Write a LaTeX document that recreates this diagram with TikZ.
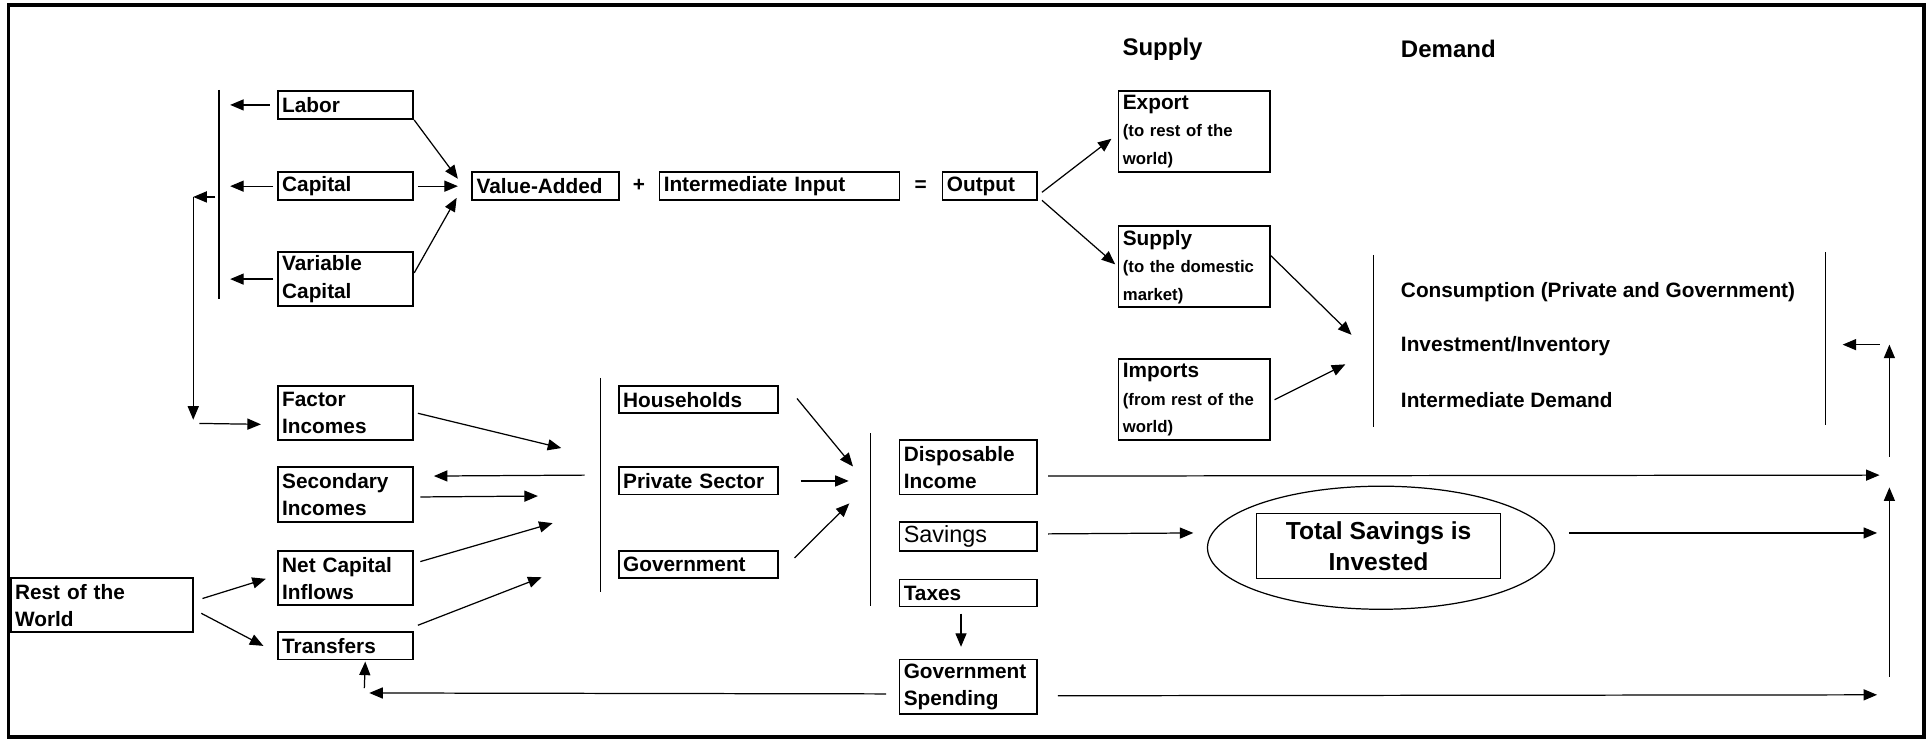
\documentclass[tikz,border=0pt]{standalone}
\usepackage{fontspec}
\setmainfont{Liberation Sans}
\usetikzlibrary{arrows.meta,shapes.geometric}
\begin{document}
\begin{tikzpicture}[x=1pt,y=-1pt,
  box/.style={draw,line width=1.5pt,inner xsep=3.5pt,inner ysep=0pt,align=left,anchor=north west,
              font=\fontsize{16.9}{22}\selectfont\bfseries},
  sbox/.style={box,font=\fontsize{13.6}{22.3}\selectfont\bfseries},
  arr/.style={line width=1pt,-{Triangle[length=11pt,width=9pt]}},
  ln/.style={line width=1pt},
  lbl/.style={inner sep=0pt,font=\fontsize{16.9}{22}\selectfont\bfseries},
  hdr/.style={inner sep=0pt,font=\fontsize{19.5}{24}\selectfont\bfseries},
  ]
\useasboundingbox (0,0) rectangle (1568,601);
\draw[line width=3pt] (7,4) rectangle (1563,599);

% headers
\node[hdr] (hsupply) at (944.5,40) {Supply};
\node[hdr,anchor=west] (hdemand) at (1138,40) {Demand};

% top row
\node[box,text width=103pt,minimum height=23pt] (labor) at (225,73) {Labor};
\node[box,text width=103pt,minimum height=23pt] (capital) at (225,139) {Capital};
\node[box,text width=103pt,minimum height=44pt] (varcap) at (225,204) {Variable\\Capital};
\node[box,text width=112pt,minimum height=23pt] (va) at (383,139) {Value-Added};
\node[lbl] (plus) at (519,151) {+};
\node[box,text width=188pt,minimum height=23pt] (ii) at (535,139) {Intermediate Input};
\node[lbl] (eq) at (748,151) {=};
\node[box,text width=70pt,minimum height=23pt] (output) at (765,139) {Output};

\node[sbox,text width=116pt,minimum height=66pt] (export) at (908,73)
  {{\fontsize{16.9}{22.3}\selectfont Export}\\(to rest of the\\world)};
\node[sbox,text width=116pt,minimum height=66pt] (supply) at (908,183)
  {{\fontsize{16.9}{22.3}\selectfont Supply}\\(to the domestic\\market)};
\node[sbox,text width=116pt,minimum height=66pt] (imports) at (908,291)
  {{\fontsize{16.9}{22.3}\selectfont Imports}\\(from rest of the\\world)};

% demand block
\coordinate (dbt) at (1116,207);
\coordinate (dbb) at (1116,347);
\draw[ln] (dbt) -- (dbb);
\coordinate (rbt) at (1483,205);
\coordinate (rbb) at (1483,345);
\draw[ln] (rbt) -- (rbb);
\node[lbl,anchor=west] (cons) at (1138,237) {Consumption (Private and Government)};
\node[lbl,anchor=west] (inv) at (1138,281) {Investment/Inventory};
\node[lbl,anchor=west] (intd) at (1138,325) {Intermediate Demand};

% left column
\node[box,text width=103pt,minimum height=44pt] (factor) at (225,313) {Factor\\Incomes};
\node[box,text width=103pt,minimum height=44pt] (second) at (225,379) {Secondary\\Incomes};
\node[box,text width=103pt,minimum height=44pt] (netcap) at (225,447) {Net Capital\\Inflows};
\node[box,text width=103pt,minimum height=22pt] (transfers) at (225,513) {Transfers};
\node[box,text width=141pt,minimum height=44pt] (row) at (8,469) {Rest of the\\World};

% institutions
\node[box,text width=122pt,minimum height=22pt] (hh) at (502,313) {Households};
\node[box,text width=122pt,minimum height=22pt] (ps) at (502,379) {Private Sector};
\node[box,text width=122pt,minimum height=22pt] (gov) at (502,447) {Government};

% income use
\node[box,text width=105pt,minimum height=44pt] (disp) at (730,357) {Disposable\\Income};
\node[box,text width=105pt,minimum height=24pt,font=\fontsize{19}{22}\selectfont] (sav) at (730,423) {Savings};
\node[box,text width=105pt,minimum height=22pt] (taxes) at (730,470) {Taxes};
\node[box,text width=105pt,minimum height=44pt] (gs) at (730,535) {Government\\Spending};

% savings invested
\node[draw,ellipse,line width=1pt,minimum width=282pt,minimum height=100pt] (ell) at (1122,445) {};
\node[draw,line width=1pt,minimum width=198pt,minimum height=53pt,inner sep=0pt,align=center,
      font=\fontsize{20}{25}\selectfont\bfseries] (tsi) at (1120,443.5) {Total Savings is\\Invested};

% bars
\coordinate (b1t) at (178,73);
\coordinate (b1b) at (178,243);
\draw[ln] (b1t) -- (b1b);
\coordinate (b2t) at (488,307);
\coordinate (b2b) at (488,481);
\draw[ln] (b2t) -- (b2b);
\coordinate (b3t) at (707,352);
\coordinate (b3b) at (707,492);
\draw[ln] (b3t) -- (b3b);

% top-left arrows
\draw[arr] ([xshift=-6pt]labor.west) -- ++(-32,0);
\draw[arr] ([xshift=-3pt]capital.west) -- ++(-35,0);
\draw[arr] ([xshift=-3pt]varcap.west) -- ++(-35,0);
\coordinate (fa) at (175,160);
\coordinate (fb) at (157,160);
\coordinate (fc) at (157,341);
\coordinate (fd) at (162,344);
\draw[arr] (fa) -- (fb);
\draw[arr] (fb) -- (fc);
\draw[arr] (fd) -- ([xshift=-13pt,yshift=-9pt]factor.west);

\draw[arr] ([xshift=3pt]capital.east) -- ([xshift=-11pt]va.west);
\draw[arr] (labor.south east) -- ([xshift=-11pt,yshift=6pt]va.west);
\draw[arr] ([yshift=5pt]varcap.east) -- ([xshift=-12pt,yshift=-9.5pt]va.west);

\draw[arr] ([xshift=3pt,yshift=-5pt]output.east) -- ([xshift=-5pt,yshift=-6pt]export.west);
\draw[arr] ([xshift=3pt,yshift=-11.5pt]output.east) -- ([xshift=-2pt,yshift=2pt]supply.west);

\coordinate (dsa) at (1098,272);
\coordinate (dia) at (1093,296);
\draw[arr] ([yshift=9pt]supply.east) -- (dsa);
\draw[arr] ([xshift=3pt]imports.east) -- (dia);

% right side
\coordinate (ra) at (1527,280);
\coordinate (rb) at (1497,280);
\draw[arr] (ra) -- (rb);
\coordinate (rc) at (1535,371);
\coordinate (rd) at (1535,280);
\draw[arr] (rc) -- (rd);
\coordinate (re) at (1535,550);
\coordinate (rf) at (1535,396);
\draw[arr] (re) -- (rf);
\coordinate (rg) at (1527,386);
\coordinate (rh) at (1525,433);
\coordinate (ri) at (1525,564.5);
\draw[arr] ([xshift=8pt,yshift=-7pt]disp.east) -- (rg);
\draw[arr] ([xshift=8pt,yshift=2pt]sav.east) -- ([xshift=-11pt,yshift=12pt]ell.west);
\draw[arr] ([xshift=11pt,yshift=12pt]ell.east) -- (rh);
\draw[arr] ([xshift=16pt,yshift=-7.5pt]gs.east) -- (ri);

% government spending back to transfers
\coordinate (ga) at (300,563);
\coordinate (gb) at (296,559);
\draw[arr] ([xshift=-10pt,yshift=-6pt]gs.west) -- (ga);
\draw[arr] (gb) -- ([xshift=16pt,yshift=-1pt]transfers.south);
\draw[arr] ([xshift=-6pt,yshift=-5pt]taxes.south) -- ([xshift=-6pt,yshift=9.5pt]gs.north);

% institutions to income use
\coordinate (ia) at (693,379);
\coordinate (ib) at (690,409);
\draw[arr] ([xshift=15pt,yshift=1pt]hh.east) -- (ia);
\draw[arr] ([xshift=18pt]ps.east) -- ++(39,0);
\draw[arr] ([xshift=13pt,yshift=5.5pt]gov.east) -- (ib);

% incomes to institutions
\coordinate (la) at (456,364);
\coordinate (lb) at (475,386);
\coordinate (lc) at (437,403);
\coordinate (ld) at (449,425);
\coordinate (le) at (440,469);
\draw[arr] ([xshift=3pt]factor.east) -- (la);
\draw[arr] (lb) -- ([xshift=16pt,yshift=15pt]second.east);
\draw[arr] ([xshift=5pt,yshift=-2pt]second.east) -- (lc);
\draw[arr] ([xshift=5pt,yshift=13.5pt]netcap.east) -- (ld);
\draw[arr] ([xshift=3pt,yshift=5pt]transfers.north east) -- (le);

\draw[arr] ([xshift=7pt,yshift=5.5pt]row.east) -- ([xshift=-9pt,yshift=-0.5pt]netcap.west);
\draw[arr] ([xshift=6pt,yshift=-6.5pt]row.east) -- ([xshift=-11pt]transfers.west);
\end{tikzpicture}
\end{document}
